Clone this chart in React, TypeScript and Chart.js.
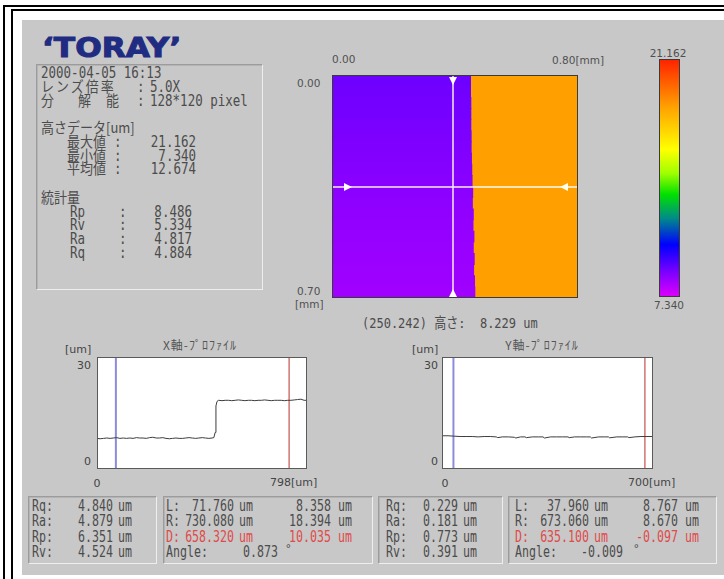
import React, { useEffect, useRef } from "react";
import { Chart, registerables } from "chart.js";
Chart.register(...registerables);

// ---------------- DATA ----------------
const heatRows = ["r01","r02","r03","r04","r05","r06","r07","r08","r09","r10","r11","r12","r13","r14","r15","r16","r17","r18","r19","r20"];
const heatBoundaryMm = [0.451,0.451,0.452,0.452,0.452,0.453,0.453,0.454,0.455,0.456,0.458,0.457,0.460,0.459,0.462,0.460,0.463,0.461,0.464,0.465];
const heatLeftUm = [8.95,8.92,8.88,8.85,8.80,8.76,8.72,8.68,8.64,8.60,8.56,8.52,8.48,8.45,8.42,8.38,8.35,8.32,8.29,8.26];
const heatRightUm = [18.4,18.4,18.4,18.4,18.4,18.4,18.4,18.4,18.4,18.4,18.4,18.4,18.4,18.4,18.4,18.4,18.4,18.4,18.4,18.4];
const heatWidthMm = 0.8;
const heatHeightMm = 0.7;
const crossXmm = 0.3935;
const crossYmm = 0.352;
const zMin = 7.34;
const zMax = 21.162;

const xProfilePosUm = [0,12,25,37,50,62,75,87,100,112,125,137,150,162,175,187,200,212,225,237,250,262,275,287,300,312,325,337,350,362,375,387,400,412,425,437,444,449,452,456,462,475,487,500,512,525,537,550,562,575,587,600,612,625,637,650,662,675,687,700,712,725,737,750,762,775,787,798];
const xProfileHeightUm = [8.2,8.1,8.2,8.3,8.2,8.3,8.4,8.2,8.3,8.2,8.3,8.2,8.4,8.3,8.3,8.2,8.4,8.5,8.3,8.3,8.4,8.2,8.1,8.2,8.3,8.2,8.2,8.3,8.4,8.3,8.2,8.3,8.4,8.3,8.2,8.3,8.4,9.8,16.9,18.1,18.4,18.3,18.4,18.4,18.3,18.4,18.5,18.4,18.3,18.4,18.4,18.3,18.4,18.4,18.5,18.4,18.3,18.4,18.4,18.4,18.3,18.4,18.4,18.5,18.6,18.7,18.4,18.4];
const xProfileMaxUm = 798;
const xProfileL = 71.76;
const xProfileR = 730.08;

const yProfilePosUm = [0,20,40,60,80,100,120,140,160,180,185,200,220,240,245,260,275,280,300,320,335,340,360,380,400,418,422,440,460,480,492,496,520,540,552,556,580,600,616,620,640,660,680,700];
const yProfileHeightUm = [8.9,8.9,8.8,8.7,8.7,8.7,8.6,8.7,8.7,8.6,8.4,8.6,8.6,8.5,8.3,8.6,8.6,8.4,8.6,8.6,8.6,8.3,8.6,8.6,8.6,8.6,8.4,8.6,8.6,8.6,8.6,8.3,8.6,8.6,8.6,8.35,8.6,8.6,8.6,8.4,8.6,8.7,8.7,8.7];
const yProfileMaxUm = 700;
const yProfileL = 37.96;
const yProfileR = 673.06;
const profileMaxZ = 30;

const infoDate = "2000-04-05 16:13";
const infoLens = "5.0X";
const infoRes = "128*120 pixel";
const heightLabels = ["最大値", "最小値", "平均値"];
const heightValues = ["21.162", "7.340", "12.674"];
const statLabels = ["Rp", "Rv", "Ra", "Rq"];
const statValues = ["8.486", "5.334", "4.817", "4.884"];

const xRoughLabels = ["Rq:", "Ra:", "Rp:", "Rv:"];
const xRoughValues = ["4.840", "4.879", "6.351", "4.524"];
const xMeasRows = [
  ["L:", "71.760", "8.358"],
  ["R:", "730.080", "18.394"],
  ["D:", "658.320", "10.035"],
];
const xAngle = "0.873";
const yRoughLabels = ["Rq:", "Ra:", "Rp:", "Rv:"];
const yRoughValues = ["0.229", "0.181", "0.773", "0.391"];
const yMeasRows = [
  ["L:", "37.960", "8.767"],
  ["R:", "673.060", "8.670"],
  ["D:", "635.100", "-0.097"],
];
const yAngle = "-0.009";
const cursorText = "(250.242) 高さ:  8.229 um";

// ---------------- STYLE ----------------
const colormap: [number, string][] = [
  [0, "#e000ff"], [0.1, "#8000ff"], [0.22, "#0000ff"], [0.33, "#008a8a"],
  [0.43, "#00e000"], [0.52, "#a0ff00"], [0.62, "#ffff00"], [0.8, "#ffa000"], [1, "#ff2000"],
];
function hexToRgb(h: string) {
  const n = parseInt(h.slice(1), 16);
  return [(n >> 16) & 255, (n >> 8) & 255, n & 255];
}
function colorFor(v: number) {
  const f = Math.max(0, Math.min(1, (v - zMin) / (zMax - zMin)));
  for (let i = 1; i < colormap.length; i++) {
    if (f <= colormap[i][0]) {
      const [f0, c0] = colormap[i - 1];
      const [f1, c1] = colormap[i];
      const t = (f - f0) / (f1 - f0);
      const a = hexToRgb(c0), b = hexToRgb(c1);
      const m = a.map((x, k) => Math.round(x + (b[k] - x) * t));
      return `rgb(${m[0]},${m[1]},${m[2]})`;
    }
  }
  return colormap[colormap.length - 1][1];
}

const mono = '"DejaVu Sans Mono","Liberation Mono","Noto Sans CJK JP",monospace';
const sans = '"DejaVu Sans","Noto Sans CJK JP",sans-serif';
const cjk = '"Noto Sans CJK JP","DejaVu Sans",sans-serif';
const textGray = "#4c4c4c";
const red = "#e04a4a";

// ---------------- CHART CONFIGS ----------------
const heatPlugin = {
  id: "heatDecor",
  afterDatasetsDraw(chart: any) {
    const { ctx, chartArea: a, scales } = chart;
    const x = scales.x.getPixelForValue(crossXmm);
    const y = scales.ymm.getPixelForValue(crossYmm);
    ctx.save();
    ctx.strokeStyle = "rgba(255,255,255,0.92)";
    ctx.lineWidth = 1.5;
    ctx.beginPath();
    ctx.moveTo(x, a.top); ctx.lineTo(x, a.bottom);
    ctx.moveTo(a.left, y); ctx.lineTo(a.right, y);
    ctx.stroke();
    const tri = (pts: number[][], col: string) => {
      ctx.fillStyle = col;
      ctx.beginPath();
      ctx.moveTo(pts[0][0], pts[0][1]);
      ctx.lineTo(pts[1][0], pts[1][1]);
      ctx.lineTo(pts[2][0], pts[2][1]);
      ctx.closePath();
      ctx.fill();
    };
    tri([[x - 4, a.top + 2], [x + 4, a.top + 2], [x, a.top + 10]], "#ffffff");
    tri([[x - 4, a.bottom - 1], [x + 4, a.bottom - 1], [x, a.bottom - 9]], "#ffffff");
    tri([[a.left + 12, y - 4], [a.left + 12, y + 4], [a.left + 20, y]], "#ffffff");
    tri([[a.right - 10, y - 4], [a.right - 10, y + 4], [a.right - 18, y]], "#fffff0");
    ctx.strokeStyle = "#3a3a3a";
    ctx.lineWidth = 1;
    ctx.strokeRect(a.left + 0.5, a.top + 0.5, a.right - a.left - 1, a.bottom - a.top - 1);
    ctx.restore();
  },
};

function heatConfig(): any {
  return {
    type: "bar",
    data: {
      labels: heatRows,
      datasets: [
        {
          data: heatRows.map((_, i) => [0, heatBoundaryMm[i]]),
          backgroundColor: heatLeftUm.map(colorFor),
          borderWidth: 0, barPercentage: 1, categoryPercentage: 1, grouped: false,
        },
        {
          data: heatRows.map((_, i) => [heatBoundaryMm[i], heatWidthMm]),
          backgroundColor: heatRightUm.map(colorFor),
          borderWidth: 0, barPercentage: 1, categoryPercentage: 1, grouped: false,
        },
      ],
    },
    options: {
      indexAxis: "y",
      animation: false, responsive: false, maintainAspectRatio: false,
      layout: { padding: 0 },
      plugins: { legend: { display: false }, tooltip: { enabled: false } },
      scales: {
        x: { type: "linear", min: 0, max: heatWidthMm, display: false },
        y: { type: "category", display: false },
        ymm: { type: "linear", min: 0, max: heatHeightMm, reverse: true, display: false, position: "left" },
      },
    },
    plugins: [heatPlugin],
  };
}

const barFramePlugin = {
  id: "barFrame",
  afterDraw(chart: any) {
    const { ctx, chartArea: a } = chart;
    ctx.save();
    ctx.strokeStyle = "#3a3a3a";
    ctx.lineWidth = 1;
    ctx.strokeRect(a.left + 0.5, a.top + 0.5, a.right - a.left - 1, a.bottom - a.top - 1);
    ctx.restore();
  },
};

function colorbarConfig(): any {
  return {
    type: "bar",
    data: {
      labels: ["z"],
      datasets: [
        {
          data: [[zMin, zMax]],
          backgroundColor: (c: any) => {
            const chart = c.chart;
            const a = chart.chartArea;
            if (!a) return "#888";
            const y0 = chart.scales.y.getPixelForValue(zMin);
            const y1 = chart.scales.y.getPixelForValue(zMax);
            const g = chart.ctx.createLinearGradient(0, y0, 0, y1);
            colormap.forEach(([f, col]) => g.addColorStop(f, col));
            return g;
          },
          borderWidth: 0, barPercentage: 1, categoryPercentage: 1,
        },
      ],
    },
    options: {
      animation: false, responsive: false, maintainAspectRatio: false,
      layout: { padding: 0 },
      plugins: { legend: { display: false }, tooltip: { enabled: false } },
      scales: {
        x: { display: false },
        y: { min: zMin, max: zMax, display: false },
      },
    },
    plugins: [barFramePlugin],
  };
}

function profilePlugin(L: number, R: number) {
  return {
    id: "profileDecor",
    beforeDatasetsDraw(chart: any) {
      const { ctx, chartArea: a, scales } = chart;
      const xl = scales.x.getPixelForValue(L);
      const xr = scales.x.getPixelForValue(R);
      ctx.save();
      ctx.strokeStyle = "rgba(120,120,215,0.85)";
      ctx.lineWidth = 2;
      ctx.beginPath(); ctx.moveTo(xl, a.top); ctx.lineTo(xl, a.bottom); ctx.stroke();
      ctx.strokeStyle = "rgba(200,90,90,0.85)";
      ctx.lineWidth = 1.5;
      ctx.beginPath(); ctx.moveTo(xr, a.top); ctx.lineTo(xr, a.bottom); ctx.stroke();
      ctx.restore();
    },
    afterDraw(chart: any) {
      const { ctx, chartArea: a } = chart;
      ctx.save();
      ctx.strokeStyle = "#5a5a5a";
      ctx.lineWidth = 1;
      ctx.strokeRect(a.left + 0.5, a.top + 0.5, a.right - a.left - 1, a.bottom - a.top - 1);
      ctx.restore();
    },
  };
}

function profileConfig(xs: number[], ys: number[], xMax: number, L: number, R: number): any {
  return {
    type: "line",
    data: {
      datasets: [
        {
          data: xs.map((x, i) => ({ x, y: ys[i] })),
          borderColor: "#3c3c3c",
          borderWidth: 1,
          pointRadius: 0,
          tension: 0,
          fill: false,
        },
      ],
    },
    options: {
      animation: false, responsive: false, maintainAspectRatio: false,
      layout: { padding: 0 },
      plugins: { legend: { display: false }, tooltip: { enabled: false } },
      scales: {
        x: { type: "linear", min: 0, max: xMax, display: false },
        y: { type: "linear", min: 0, max: profileMaxZ, display: false },
      },
    },
    plugins: [profilePlugin(L, R)],
  };
}

// ---------------- COMPONENTS ----------------
function ChartBox(props: { left: number; top: number; width: number; height: number; make: () => any; bg?: string }) {
  const ref = useRef<HTMLCanvasElement>(null);
  useEffect(() => {
    const c = new Chart(ref.current as HTMLCanvasElement, props.make());
    return () => c.destroy();
  }, []);
  return (
    <canvas
      ref={ref}
      width={props.width}
      height={props.height}
      style={{ position: "absolute", left: props.left, top: props.top, width: props.width, height: props.height, background: props.bg || "transparent" }}
    />
  );
}

function T(props: { x: number; y: number; children: any; size?: number; color?: string; font?: string; align?: "left" | "right" | "center"; ls?: number; w?: number; sy?: number }) {
  const lh = 16;
  const w = props.w || 300;
  const st: any = {
    position: "absolute",
    top: props.y - lh / 2,
    fontSize: props.size || 12,
    lineHeight: lh + "px",
    color: props.color || textGray,
    fontFamily: props.font || mono,
    whiteSpace: "pre",
    letterSpacing: props.ls || 0,
  };
  if (props.sy) { st.transform = `scaleY(${props.sy})`; st.transformOrigin = "center"; }
  if (props.align === "right") { st.left = props.x - w; st.width = w; st.textAlign = "right"; }
  else if (props.align === "center") { st.left = props.x - w / 2; st.width = w; st.textAlign = "center"; }
  else st.left = props.x;
  return <div style={st}>{props.children}</div>;
}

function Panel(props: { left: number; top: number; width: number; height: number }) {
  return (
    <div
      style={{
        position: "absolute", left: props.left, top: props.top, width: props.width - 2, height: props.height - 2,
        borderStyle: "solid", borderWidth: 1,
        borderColor: "#9c9c9c #eeeeee #eeeeee #9c9c9c",
        boxShadow: "1px 1px 0 #b4b4b4 inset",
      }}
    />
  );
}

export default function App() {
  const rowY = [505, 520, 536, 551];
  const hy = [142, 156, 169];
  const sty = [212, 225, 239, 253];
  const MS = 12.5; // mono size
  const MY = 1.3; // vertical stretch of the bitmap-like font
  const BS = 11.6;
  const BY = 1.38;
  return (
    <div style={{ position: "absolute", left: 0, top: 0, width: 724, height: 579, background: "#fff", overflow: "hidden" }}>
      {/* frame */}
      <div style={{ position: "absolute", left: 3, top: 5, width: 730, height: 600, borderTop: "2px solid #000", borderLeft: "2px solid #000" }} />
      <div style={{ position: "absolute", left: 11, top: 9, width: 730, height: 600, borderTop: "2px solid #000", borderLeft: "2px solid #000" }} />
      {/* gray panel */}
      <div style={{ position: "absolute", left: 22, top: 20, width: 702, height: 555, background: "#c8c8c8" }} />

      {/* logo */}
      <div style={{ position: "absolute", left: 42, top: 35, fontFamily: '"DejaVu Sans",sans-serif', fontWeight: "bold", fontSize: 26, lineHeight: "26px", color: "#1f2c82", transform: "scaleX(1.2)", transformOrigin: "left top", whiteSpace: "pre", WebkitTextStroke: "1px #1f2c82" }}>
        ‘TORAY’
      </div>

      {/* info box */}
      <Panel left={36} top={64} width={227} height={226} />
      <T x={41} y={73} size={MS} sy={MY}>{infoDate}</T>
      <T x={41} y={87} size={13} font={cjk} ls={2} sy={1.1}>レンズ倍率</T>
      <T x={137} y={87} size={MS} sy={MY}>:</T>
      <T x={150} y={87} size={MS} sy={MY}>{infoLens}</T>
      <T x={41} y={101} size={13} font={cjk} sy={1.1}>分</T>
      <T x={78} y={101} size={13} font={cjk} sy={1.1}>解</T>
      <T x={106} y={101} size={13} font={cjk} sy={1.1}>能</T>
      <T x={137} y={101} size={MS} sy={MY}>:</T>
      <T x={150} y={101} size={MS} sy={MY}>{infoRes}</T>
      <T x={41} y={128} size={13} font={cjk} sy={1.1}>高さデータ[um]</T>
      {heightLabels.map((l, i) => (
        <React.Fragment key={l}>
          <T x={67} y={hy[i]} size={13} font={cjk} sy={1.1}>{l}</T>
          <T x={114} y={hy[i]} size={MS} sy={MY}>:</T>
          <T x={196} y={hy[i]} size={MS} align="right" sy={MY}>{heightValues[i]}</T>
        </React.Fragment>
      ))}
      <T x={41} y={198} size={13} font={cjk} sy={1.1}>統計量</T>
      {statLabels.map((l, i) => (
        <React.Fragment key={l}>
          <T x={70} y={sty[i]} size={MS} sy={MY}>{l}</T>
          <T x={119} y={sty[i]} size={MS} sy={MY}>:</T>
          <T x={192} y={sty[i]} size={MS} align="right" sy={MY}>{statValues[i]}</T>
        </React.Fragment>
      ))}

      {/* heatmap */}
      <T x={332} y={59} size={10.5} font={sans} color="#505050">0.00</T>
      <T x={552} y={60} size={10.5} font={sans} color="#505050">0.80[mm]</T>
      <T x={297} y={83} size={10.5} font={sans} color="#505050">0.00</T>
      <T x={297} y={291} size={10.5} font={sans} color="#505050">0.70</T>
      <T x={295} y={304} size={10.5} font={sans} color="#505050">[mm]</T>
      <ChartBox left={332} top={75} width={246} height={223} make={heatConfig} />
      <T x={362} y={323} size={12} sy={1.2}>{cursorText}</T>

      {/* colorbar */}
      <T x={668} y={53} size={10.5} font={sans} color="#505050" align="center" w={60}>21.162</T>
      <ChartBox left={659} top={59} width={21} height={238} make={colorbarConfig} />
      <T x={669} y={305} size={10.5} font={sans} color="#505050" align="center" w={60}>7.340</T>

      {/* X profile */}
      <T x={200} y={345} size={12} font={cjk} align="center" w={160} color="#555" ls={1}>X軸-ﾌﾟﾛﾌｧｲﾙ</T>
      <T x={65} y={350} size={11} font={sans} color="#444">[um]</T>
      <T x={91} y={366} size={11} font={sans} color="#444" align="right" w={40}>30</T>
      <T x={91} y={462} size={11} font={sans} color="#444" align="right" w={40}>0</T>
      <ChartBox left={97} top={357} width={210} height={112} bg="#ffffff"
        make={() => profileConfig(xProfilePosUm, xProfileHeightUm, xProfileMaxUm, xProfileL, xProfileR)} />
      <T x={97} y={484} size={11} font={sans} color="#444" align="center" w={40}>0</T>
      <T x={270} y={483} size={11} font={sans} color="#444">{xProfileMaxUm + "[um]"}</T>

      {/* Y profile */}
      <T x={542} y={345} size={12} font={cjk} align="center" w={160} color="#555" ls={1}>Y軸-ﾌﾟﾛﾌｧｲﾙ</T>
      <T x={412} y={350} size={11} font={sans} color="#444">[um]</T>
      <T x={438} y={366} size={11} font={sans} color="#444" align="right" w={40}>30</T>
      <T x={438} y={462} size={11} font={sans} color="#444" align="right" w={40}>0</T>
      <ChartBox left={442} top={357} width={211} height={112} bg="#ffffff"
        make={() => profileConfig(yProfilePosUm, yProfileHeightUm, yProfileMaxUm, yProfileL, yProfileR)} />
      <T x={445} y={484} size={11} font={sans} color="#444" align="center" w={40}>0</T>
      <T x={628} y={483} size={11} font={sans} color="#444">{yProfileMaxUm + "[um]"}</T>

      {/* stats boxes */}
      <Panel left={28} top={496} width={129} height={68} />
      <Panel left={163} top={496} width={210} height={68} />
      <Panel left={378} top={496} width={125} height={68} />
      <Panel left={508} top={496} width={209} height={68} />

      {xRoughLabels.map((l, i) => (
        <React.Fragment key={"xr" + l}>
          <T x={32} y={rowY[i]} size={BS} sy={BY}>{l}</T>
          <T x={113} y={rowY[i]} align="right" w={60} size={BS} sy={BY}>{xRoughValues[i]}</T>
          <T x={118} y={rowY[i]} size={BS} sy={BY}>um</T>
        </React.Fragment>
      ))}
      {xMeasRows.map((r, i) => {
        const col = i === 2 ? red : textGray;
        return (
          <React.Fragment key={"xm" + i}>
            <T x={166} y={rowY[i]} color={col} size={BS} sy={BY}>{r[0]}</T>
            <T x={234} y={rowY[i]} align="right" w={80} color={col} size={BS} sy={BY}>{r[1]}</T>
            <T x={239} y={rowY[i]} color={col} size={BS} sy={BY}>um</T>
            <T x={331} y={rowY[i]} align="right" w={80} color={col} size={BS} sy={BY}>{r[2]}</T>
            <T x={338} y={rowY[i]} color={col} size={BS} sy={BY}>um</T>
          </React.Fragment>
        );
      })}
      <T x={166} y={rowY[3]} size={BS} sy={BY}>Angle:</T>
      <T x={278} y={rowY[3]} align="right" w={80} size={BS} sy={BY}>{xAngle}</T>
      <T x={285} y={rowY[3] - 2} size={11}>°</T>

      {yRoughLabels.map((l, i) => (
        <React.Fragment key={"yr" + l}>
          <T x={386} y={rowY[i]} size={BS} sy={BY}>{l}</T>
          <T x={458} y={rowY[i]} align="right" w={60} size={BS} sy={BY}>{yRoughValues[i]}</T>
          <T x={463} y={rowY[i]} size={BS} sy={BY}>um</T>
        </React.Fragment>
      ))}
      {yMeasRows.map((r, i) => {
        const col = i === 2 ? red : textGray;
        return (
          <React.Fragment key={"ym" + i}>
            <T x={515} y={rowY[i]} color={col} size={BS} sy={BY}>{r[0]}</T>
            <T x={589} y={rowY[i]} align="right" w={80} color={col} size={BS} sy={BY}>{r[1]}</T>
            <T x={594} y={rowY[i]} color={col} size={BS} sy={BY}>um</T>
            <T x={678} y={rowY[i]} align="right" w={80} color={col} size={BS} sy={BY}>{r[2]}</T>
            <T x={685} y={rowY[i]} color={col} size={BS} sy={BY}>um</T>
          </React.Fragment>
        );
      })}
      <T x={515} y={rowY[3]} size={BS} sy={BY}>Angle:</T>
      <T x={623} y={rowY[3]} align="right" w={80} size={BS} sy={BY}>{yAngle}</T>
      <T x={633} y={rowY[3] - 2} size={11}>°</T>
    </div>
  );
}
